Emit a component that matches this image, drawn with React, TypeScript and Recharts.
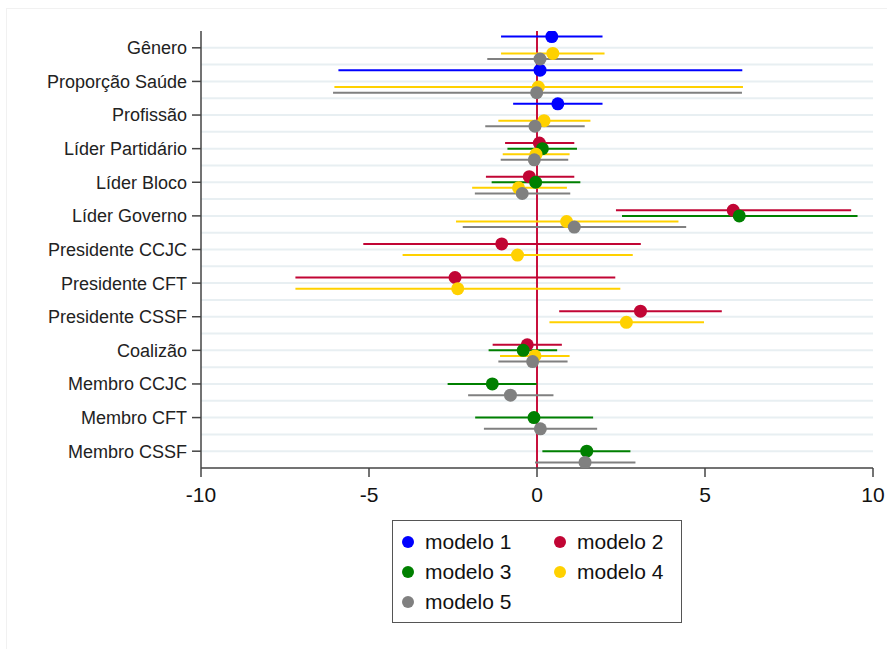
import React from 'react';
import {
  ScatterChart, Scatter, XAxis, YAxis, CartesianGrid, ErrorBar, ReferenceLine,
} from 'recharts';

const CATEGORIES = [
  'Gênero', 'Proporção Saúde', 'Profissão', 'Líder Partidário', 'Líder Bloco',
  'Líder Governo', 'Presidente CCJC', 'Presidente CFT', 'Presidente CSSF',
  'Coalizão', 'Membro CCJC', 'Membro CFT', 'Membro CSSF',
];
const X_TICKS = [-10, -5, 0, 5, 10];

const MODELS = ['modelo 1', 'modelo 2', 'modelo 3', 'modelo 4', 'modelo 5'];
const COLORS = ['#0000ff', '#c10534', '#008000', '#ffd100', '#808080'];

// point estimates and CI bounds, one slot per category (null = not in model)
const COEF_M1 = [0.44, 0.09, 0.62, null, null, null, null, null, null, null, null, null, null];
const LO_M1 = [-1.07, -5.91, -0.71, null, null, null, null, null, null, null, null, null, null];
const HI_M1 = [1.95, 6.11, 1.95, null, null, null, null, null, null, null, null, null, null];

const COEF_M2 = [null, null, null, 0.07, -0.23, 5.84, -1.05, -2.44, 3.08, -0.29, null, null, null];
const LO_M2 = [null, null, null, -0.95, -1.52, 2.35, -5.17, -7.19, 0.66, -1.32, null, null, null];
const HI_M2 = [null, null, null, 1.11, 1.11, 9.35, 3.09, 2.33, 5.5, 0.74, null, null, null];

const COEF_M3 = [null, null, null, 0.16, -0.04, 6.02, null, null, null, -0.41, -1.33, -0.09, 1.48];
const LO_M3 = [null, null, null, -0.88, -1.35, 2.53, null, null, null, -1.44, -2.66, -1.84, 0.16];
const HI_M3 = [null, null, null, 1.19, 1.29, 9.54, null, null, null, 0.6, -0.01, 1.67, 2.78];

const COEF_M4 = [0.47, 0.04, 0.21, -0.03, -0.55, 0.88, -0.58, -2.36, 2.66, -0.06, null, null, null];
const LO_M4 = [-1.07, -6.03, -1.15, -1.02, -1.93, -2.41, -4.0, -7.19, 0.37, -1.1, null, null, null];
const HI_M4 = [2.01, 6.13, 1.59, 0.97, 0.89, 4.21, 2.85, 2.48, 4.97, 0.97, null, null, null];

const COEF_M5 = [0.09, -0.01, -0.06, -0.08, -0.44, 1.11, null, null, null, -0.13, -0.79, 0.1, 1.43];
const LO_M5 = [-1.48, -6.07, -1.54, -1.08, -1.85, -2.21, null, null, null, -1.15, -2.05, -1.58, -0.06];
const HI_M5 = [1.67, 6.1, 1.42, 0.93, 0.99, 4.44, null, null, null, 0.91, 0.49, 1.79, 2.93];

const SERIES = [
  [COEF_M1, LO_M1, HI_M1],
  [COEF_M2, LO_M2, HI_M2],
  [COEF_M3, LO_M3, HI_M3],
  [COEF_M4, LO_M4, HI_M4],
  [COEF_M5, LO_M5, HI_M5],
];

const FONT = '"Liberation Sans", Arial, sans-serif';
const Y_TICKS = CATEGORIES.map((_, i) => i + 1);
const GRID_Y = CATEGORIES.flatMap((_, i) => (i === 0 ? [1] : [i + 0.5, i + 1]));

// models are stacked slightly within each category row
const buildData = (m: number) => {
  const [coef, lo, hi] = SERIES[m];
  const out: { x: number; y: number; err: [number, number] }[] = [];
  coef.forEach((c, i) => {
    if (c == null) return;
    out.push({ x: c, y: i + 1 + (m - 2) / 6, err: [c - (lo[i] as number), (hi[i] as number) - c] });
  });
  return out;
};

const dot = (color: string) => (p: any) => <circle cx={p.cx} cy={p.cy} r={6.5} fill={color} />;

export default function App() {
  return (
    <div style={{ position: 'absolute', left: 0, top: 0, width: 887, height: 649, background: '#fff', fontFamily: FONT }}>
      <div style={{ position: 'absolute', left: 6, top: 8, width: 881, height: 641, borderTop: '1px solid #f1f1f1', borderLeft: '1px solid #f1f1f1' }} />
      <ScatterChart width={887} height={515} margin={{ top: 31, right: 14, left: 0, bottom: 7 }}>
        <CartesianGrid horizontal vertical={false} horizontalValues={GRID_Y} stroke="#e8eff2" strokeWidth={2} />
        <XAxis
          type="number" dataKey="x" domain={[-10, 10]} ticks={X_TICKS} height={40}
          tickSize={9} tickMargin={10} allowDataOverflow
          tick={{ fontSize: 21, fill: '#111', fontFamily: FONT }}
          axisLine={{ stroke: '#444', strokeWidth: 1.5 }} tickLine={{ stroke: '#444', strokeWidth: 1.5 }}
        />
        <YAxis
          type="number" dataKey="y" domain={[0.5, 13.5]} reversed ticks={Y_TICKS} interval={0} width={201}
          tickSize={9} tickMargin={5} allowDataOverflow
          tickFormatter={(v) => CATEGORIES[v - 1]}
          tick={{ fontSize: 18, fill: '#222', fontFamily: FONT }}
          axisLine={{ stroke: '#444', strokeWidth: 1.5 }} tickLine={{ stroke: '#444', strokeWidth: 1.5 }}
        />
        <ReferenceLine x={0} stroke="#c8103c" strokeWidth={2} />
        {MODELS.map((name, m) => (
          <Scatter key={name} name={name} data={buildData(m)} isAnimationActive={false} shape={dot(COLORS[m])}>
            <ErrorBar dataKey="err" direction="x" width={0} stroke={COLORS[m]} strokeWidth={2} isAnimationActive={false} />
          </Scatter>
        ))}
      </ScatterChart>
      <div style={{ position: 'absolute', left: 392, top: 520, width: 290, height: 103, boxSizing: 'border-box', border: '1.5px solid #555' }}>
        {MODELS.map((name, m) => (
          <div key={name} style={{ position: 'absolute', left: m % 2 === 0 ? 8 : 160, top: 7 + Math.floor(m / 2) * 30, height: 28, display: 'flex', alignItems: 'center' }}>
            <svg width={14} height={14} style={{ marginRight: 10 }}>
              <circle cx={7} cy={7} r={6} fill={COLORS[m]} />
            </svg>
            <span style={{ fontSize: 21, color: '#111' }}>{name}</span>
          </div>
        ))}
      </div>
    </div>
  );
}
